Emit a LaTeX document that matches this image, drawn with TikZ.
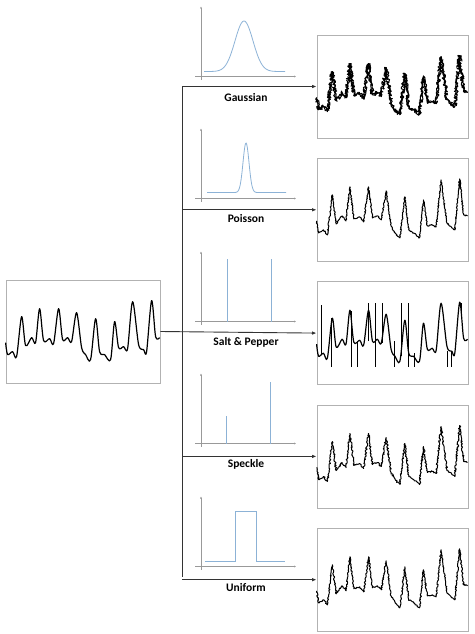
\documentclass[tikz,border=0pt]{standalone}
\usepackage{fontspec}
\setmainfont{Carlito}
\usetikzlibrary{positioning,arrows.meta,decorations.pathmorphing}
\definecolor{distblue}{RGB}{140,178,214}
\tikzset{noisy/.style={signal,line width=1pt,decorate,decoration={random steps,segment length=1pt,amplitude=#1}}}

% pulse wave, in pixels from the box's top left corner
\newcommand\ppgwave[1]{%
  \draw[#1] plot[smooth,tension=.5] coordinates {(0,63) (2,75) (7,72) (11,77) (16,37) (20,66) (26,58) (30,63)
    (34,29) (38,61) (44,59) (48,64) (53,29) (57,60) (62,58) (66,62) (71,33) (76,68) (80,75) (85,80)
    (90,39) (94,72) (99,75) (105,80) (109,42) (113,68) (118,67) (122,69) (127,22) (133,65) (138,70)
    (141,72) (146,21) (150,57) (154,58)};}
\newcommand\noisywave[1]{%
  \draw[noisy=#1] (0,63) -- (2,75) -- (7,72) -- (11,77) -- (16,37) -- (20,66) -- (26,58) -- (30,63)
    -- (34,29) -- (38,61) -- (44,59) -- (48,64) -- (53,29) -- (57,60) -- (62,58) -- (66,62) -- (71,33)
    -- (76,68) -- (80,75) -- (85,80) -- (90,39) -- (94,72) -- (99,75) -- (105,80) -- (109,42) -- (113,68)
    -- (118,67) -- (122,69) -- (127,22) -- (133,65) -- (138,70) -- (141,72) -- (146,21) -- (150,57) -- (154,58);}

\begin{document}
\begin{tikzpicture}[x=1pt,y=-1pt,>=Latex,node distance=19.5pt,font=\bfseries\fontsize{11.5}{13}\selectfont]
  \tikzstyle{sigbox}=[draw=gray!60,line width=.8pt,minimum width=151pt,minimum height=103pt,inner sep=0pt]
  \tikzstyle{wire}=[draw=black!80,line width=.9pt]
  \tikzstyle{arr}=[wire,-{Latex[length=4.5pt,width=3.5pt]}]
  \tikzstyle{axis}=[draw=gray!80,line width=.5pt,-{Latex[length=2pt,width=2pt]}]
  \tikzstyle{dist}=[draw=distblue,line width=.8pt]
  \tikzstyle{signal}=[line width=1.2pt,line join=round]
  \tikzstyle{lbl}=[inner sep=1pt]
  \useasboundingbox (0,0) rectangle (474,634);
  \pgfmathsetseed{42}

  % boxes
  \node[sigbox,minimum width=154pt] (orig) at (83,331.5) {};
  \node[sigbox] (gauss) at (392.5,86.5) {};
  \node[sigbox,below=of gauss] (poisson) {};
  \node[sigbox,below=of poisson] (salt) {};
  \node[sigbox,below=of salt] (speckle) {};
  \node[sigbox,below=of speckle] (uniform) {};

  % connectors
  \coordinate (top) at (182,86.5);
  \coordinate (bot) at (182,576.5);
  \draw[wire] (top) -- (bot);
  \draw[arr] (orig.east) -- (salt.west);
  \foreach \n in {gauss,poisson,speckle,uniform}
    \draw[arr] (top |- \n.west) -- (\n.west);

  % labels
  \node[lbl] (gausslbl) at (246,98) {Gaussian};
  \node[lbl] (poissonlbl) at (246,219) {Poisson};
  \node[lbl] (saltlbl) at (246,342) {Salt \& Pepper};
  \node[lbl] (specklelbl) at (246,464) {Speckle};
  \node[lbl] (uniformlbl) at (246,587) {Uniform};

  % noise distributions
  \foreach \yb in {76.5,198.5,321.5,443.5,566.5} {
    \draw[axis] (195,\yb) -- (296,\yb);
    \draw[axis] (201,\yb+3) -- (201,\yb-70);
  }
  \draw[dist] plot[domain=204:285,samples=90,smooth] (\x,{71.5-50.5*exp(-((\x-244)^2)/162)});
  \draw[dist] plot[domain=207:286,samples=140,smooth] (\x,{192.5-49.5*exp(-((\x-246)^2)/18)});
  \draw[dist] (227,321.5) -- (227,259) (271,321.5) -- (271,259);
  \draw[dist] (226,443.5) -- (226,416) (270,443.5) -- (270,382);
  \draw[dist] (205,561.5) -- (235,561.5) -- (235,511) -- (256,511) -- (256,561.5) -- (285,561.5);

  % signals
  \begin{scope}[shift={(orig.north west)}]
    \ppgwave{signal}
  \end{scope}
  \begin{scope}[shift={(gauss.north west)},xscale=.98]
    \noisywave{1.9pt}
    \noisywave{1.9pt}
  \end{scope}
  \begin{scope}[shift={(poisson.north west)},xscale=.98]
    \noisywave{.6pt}
  \end{scope}
  \begin{scope}[shift={(salt.north west)}]
    \begin{scope}[xscale=.98]
      \ppgwave{signal}
    \end{scope}
    \foreach \sx/\sa/\sb in {5/73/24,15/37/86,35/30/86,41/60/86,52/60/22,59/22/86,66/22/62,78/60/86,
        85/22/75,92/22/86,98/72/86,131/70/86,135/70/86,145/22/32}
      \draw[signal,line width=1pt] (\sx,\sa) -- (\sx,\sb);
  \end{scope}
  \begin{scope}[shift={(speckle.north west)},xscale=.98]
    \noisywave{.9pt}
  \end{scope}
  \begin{scope}[shift={(uniform.north west)},xscale=.98]
    \noisywave{.7pt}
  \end{scope}
\end{tikzpicture}
\end{document}
